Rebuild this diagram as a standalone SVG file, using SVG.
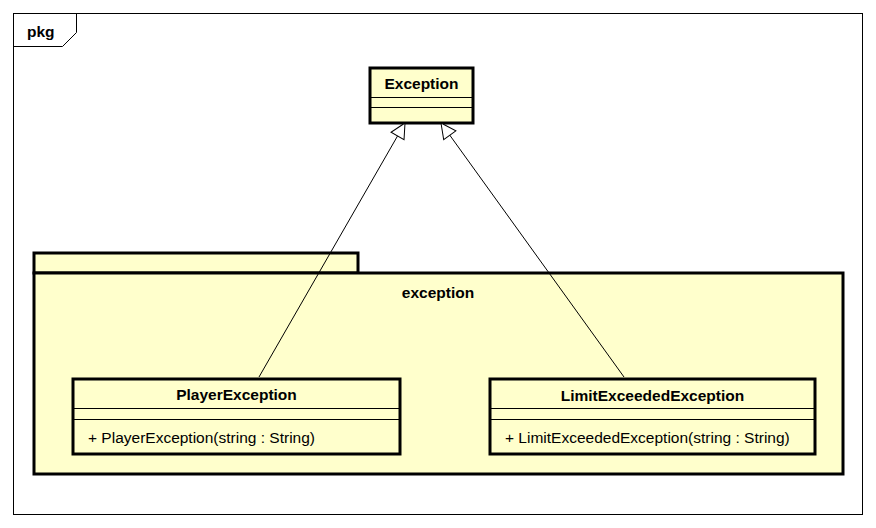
<svg xmlns="http://www.w3.org/2000/svg" width="876" height="528" viewBox="0 0 876 528">
<style>
.t{font-family:"Liberation Sans",Arial,sans-serif;font-size:15.5px;fill:#000}
.b{font-weight:bold}
.box{fill:#FFFFCC;stroke:#000;stroke-width:3}
.sep{stroke:#000;stroke-width:1}
.edge{fill:none;stroke:#000;stroke-width:1}
</style>
<defs>
<marker id="gen" markerUnits="userSpaceOnUse" viewBox="-17 -9 18 18" refX="0" refY="0" markerWidth="18" markerHeight="18" orient="auto">
<path d="M0,0 L-15,-7.5 L-15,7.5 Z" fill="#fff" stroke="#000" stroke-width="1"/>
</marker>
</defs>
<rect x="0" y="0" width="876" height="528" fill="#fff"/>
<g id="frame">
<rect x="13.5" y="13.5" width="849" height="501" fill="none" stroke="#000" stroke-width="1"/>
<path d="M13.5,46.5 L62.5,46.5 L76.5,32.5 L76.5,13.5" fill="none" stroke="#000" stroke-width="1"/>
<text class="t b" x="27" y="37">pkg</text>
</g>
<g id="pkg-exception">
<rect class="box" x="34" y="253" width="324" height="20"/>
<rect class="box" x="34" y="273" width="809" height="201"/>
<text class="t b" x="438" y="298" text-anchor="middle">exception</text>
</g>
<g id="Exception">
<rect class="box" x="370" y="68" width="103" height="55"/>
<line class="sep" x1="370" y1="97.5" x2="473" y2="97.5"/>
<line class="sep" x1="370" y1="107.5" x2="473" y2="107.5"/>
<text class="t b" x="421.5" y="89" text-anchor="middle">Exception</text>
</g>
<g id="PlayerException">
<rect class="box" x="73" y="379" width="327" height="75"/>
<line class="sep" x1="73" y1="408.5" x2="400" y2="408.5"/>
<line class="sep" x1="73" y1="419.5" x2="400" y2="419.5"/>
<text class="t b" x="236.5" y="400" text-anchor="middle">PlayerException</text>
<text class="t" x="88" y="443">+ PlayerException(string : String)</text>
</g>
<g id="LimitExceededException">
<rect class="box" x="490" y="379" width="325" height="75"/>
<line class="sep" x1="490" y1="408.5" x2="815" y2="408.5"/>
<line class="sep" x1="490" y1="419.5" x2="815" y2="419.5"/>
<text class="t b" x="652.5" y="401" text-anchor="middle">LimitExceededException</text>
<text class="t" x="505" y="443">+ LimitExceededException(string : String)</text>
</g>
<g id="connectors">
<line class="edge" x1="259" y1="377" x2="405" y2="123" marker-end="url(#gen)"/>
<line class="edge" x1="624" y1="377" x2="441" y2="123" marker-end="url(#gen)"/>
</g>
</svg>
